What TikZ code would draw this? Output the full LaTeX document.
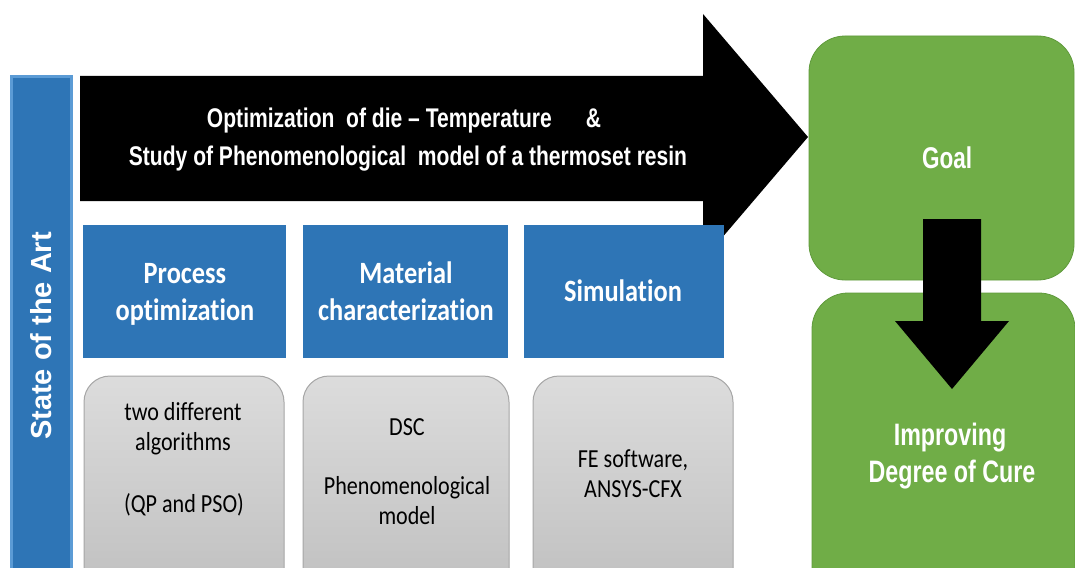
\documentclass[tikz,border=0pt]{standalone}
\usepackage{fontspec}
\newfontfamily\arrowfont{Liberation Sans}[FakeStretch=0.78]
\newfontfamily\greenfont{Liberation Sans}[FakeStretch=0.75]
\newfontfamily\sidefont{Liberation Sans}
\newfontfamily\califont{Carlito}[FakeStretch=0.85,Ligatures=NoCommon]
\definecolor{hdrblue}{HTML}{2E75B6}
\definecolor{barline}{HTML}{5B9BD5}
\definecolor{goalgreen}{HTML}{70AD47}
\definecolor{goalline}{HTML}{5F9A3B}
\definecolor{graytop}{HTML}{DCDCDC}
\definecolor{graybot}{HTML}{BDBDBD}
\definecolor{grayline}{HTML}{A6A6A6}
\tikzset{
  box/.style={anchor=north west, inner sep=0pt, outer sep=0pt},
  sidebar/.style={box, fill=hdrblue, draw=barline, line width=3pt},
  hdrbox/.style={box, fill=hdrblue, minimum width=203pt, minimum height=133pt},
  graybox/.style={box, draw=grayline, line width=1pt, top color=graytop, bottom color=graybot, rounded corners=26pt, minimum height=240pt},
  greenbox/.style={box, fill=goalgreen, draw=goalline, line width=0.8pt, rounded corners=36pt},
  arrowtxt/.style={anchor=base, text=white, font=\arrowfont\bfseries\fontsize{27}{31}\selectfont, inner sep=0pt},
  hdrtxt/.style={anchor=base, text=white, font=\califont\bfseries\fontsize{31}{36}\selectfont, inner sep=0pt},
  graytxt/.style={anchor=base, text=black, font=\califont\fontsize{26}{30}\selectfont, inner sep=0pt},
  greentxt/.style={anchor=base, text=white, font=\greenfont\bfseries\fontsize{31}{36}\selectfont, inner sep=0pt},
}
\begin{document}
\begin{tikzpicture}[x=1pt,y=-1pt]
\useasboundingbox (0,0) rectangle (1075,567);
\clip (0,0) rectangle (1075,567);
\fill[white] (0,0) rectangle (1075,567);

% left bar
\node[sidebar, minimum width=60pt, minimum height=530pt] (soa) at (11,77) {};
\node[rotate=90, text=white, font=\sidefont\bfseries\fontsize{29}{33}\selectfont, inner sep=0pt] (soatxt) at (41,336) {State of the Art};

% big arrow
\coordinate (arrtip) at (808,137);
\fill[black] (80,76) -- (703,76) -- (703,14) -- (arrtip) -- (703,260) -- (703,201) -- (80,201) -- cycle;
\node[arrowtxt] (arr1) at (404,128) {Optimization\ \ of die – Temperature\hspace{34pt}\&};
\node[arrowtxt] (arr2) at (408,165) {Study of Phenomenological\ \ model of a thermoset\ resin};

% header boxes
\node[hdrbox] (h1) at (83,225) {};
\node[hdrbox, minimum width=205pt] (h2) at (303,225) {};
\node[hdrbox, minimum width=200pt] (h3) at (524,225) {};
\node[hdrtxt] (h1a) at (185,283) {Process};
\node[hdrtxt] (h1b) at (185,320) {optimization};
\node[hdrtxt] (h2a) at (406,283) {Material};
\node[hdrtxt] (h2b) at (406,320) {characterization};
\node[hdrtxt] (h3a) at (623,301) {Simulation};

% gray boxes
\node[graybox, minimum width=200pt] (g1) at (84,376) {};
\node[graybox, minimum width=206pt] (g2) at (303,376) {};
\node[graybox, minimum width=200pt] (g3) at (533,376) {};
\node[graytxt] (g1a) at (183,420) {two different};
\node[graytxt] (g1b) at (183,450) {algorithms};
\node[graytxt] (g1c) at (184,512) {(QP and PSO)};
\node[graytxt] (g2a) at (407,435) {DSC};
\node[graytxt] (g2b) at (407,494) {Phenomenological};
\node[graytxt] (g2c) at (407,524) {model};
\node[graytxt] (g3a) at (633,467) {FE software,};
\node[graytxt] (g3b) at (633,497) {ANSYS-CFX};

% green boxes
\node[greenbox, minimum width=265pt, minimum height=244pt] (goal) at (809,36) {};
\node[greenbox, minimum width=263pt, minimum height=320pt] (impr) at (812,293) {};
\node[greentxt, font=\greenfont\bfseries\fontsize{30}{34}\selectfont] (goaltxt) at (947,168) {Goal};
\node[greentxt] (imp1) at (950,445) {Improving};
\node[greentxt] (imp2) at (952,482) {Degree of Cure};

% down arrow
\coordinate (dtip) at (952,389);
\fill[black] (923,219) -- (981,219) -- (981,321) -- (1009,321) -- (dtip) -- (895,321) -- (923,321) -- cycle;
\end{tikzpicture}
\end{document}
